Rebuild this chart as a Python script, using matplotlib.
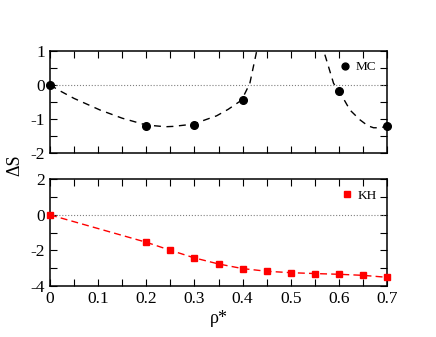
import matplotlib
matplotlib.use("Agg")
import matplotlib.pyplot as plt
import numpy as np

plt.rcParams['font.family'] = ['Liberation Serif', 'DejaVu Serif']
plt.rcParams['axes.unicode_minus'] = False

# MC points
mc_x = [0.0, 0.2, 0.3, 0.4, 0.6, 0.7]
mc_y = [0.0, -1.20, -1.17, -0.45, -0.17, -1.22]

# dashed fit (two branches)
fit1_x = [0.0, 0.017, 0.05, 0.104, 0.15, 0.2, 0.24, 0.256, 0.3, 0.312, 0.346, 0.37, 0.398, 0.415, 0.429, 0.44]
fit1_y = [0.0, -0.15, -0.40, -0.74, -0.98, -1.18, -1.23, -1.22, -1.15, -1.08, -0.91, -0.72, -0.45, 0.04, 0.97, 1.6]
fit2_x = [0.56, 0.569, 0.589, 0.6, 0.623, 0.644, 0.66, 0.672, 0.685, 0.7]
fit2_y = [1.6, 0.97, 0.04, -0.17, -0.74, -1.03, -1.20, -1.26, -1.26, -1.22]

# KH points
kh_x = [0.0, 0.2, 0.25, 0.3, 0.35, 0.4, 0.45, 0.5, 0.55, 0.6, 0.65, 0.7]
kh_y = [0.0, -1.54, -1.99, -2.42, -2.76, -3.02, -3.17, -3.25, -3.30, -3.34, -3.40, -3.51]

fig = plt.figure(figsize=(4.36, 3.37), dpi=100)
ax1 = fig.add_axes([0.1147, 0.546, 0.773, 0.3036])
ax2 = fig.add_axes([0.1147, 0.1513, 0.773, 0.3166])

ax1.plot(fit1_x, fit1_y, color='black', ls=(0, (5, 4)), lw=1.0)
ax1.plot(fit2_x, fit2_y, color='black', ls=(0, (5, 4)), lw=1.0)
ax1.plot(mc_x, mc_y, 'o', color='black', ms=5.5, clip_on=False, zorder=5, label='MC')
ax1.axhline(0, color='gray', ls=':', lw=0.8)
ax1.set_ylim(-2, 1)
ax1.set_yticks([1, 0, -1, -2])
ax1.set_yticks(np.arange(-2, 1.01, 0.5), minor=True)
ax1.set_xticklabels([])

ax2.plot(kh_x, kh_y, color='red', ls=(0, (5, 3)), lw=1.0)
ax2.plot(kh_x, kh_y, 's', color='red', ms=5, clip_on=False, zorder=5, label='KH')
ax2.axhline(0, color='gray', ls=':', lw=0.8)
ax2.set_ylim(-4, 2)
ax2.set_yticks([2, 0, -2, -4])
ax2.set_yticks(np.arange(-4, 2.01, 1), minor=True)

for ax in (ax1, ax2):
    ax.set_xlim(0, 0.7)
    ax.set_xticks(np.arange(0, 0.71, 0.1))
    ax.set_xticks(np.arange(0, 0.71, 0.05), minor=True)
    ax.tick_params(which='both', direction='in', top=True, right=True, length=5, width=0.8, labelsize=12.5)
    for s in ax.spines.values():
        s.set_linewidth(1.1)
    ax.legend(loc='upper right', frameon=False, fontsize=9.5, handletextpad=0.3,
              handlelength=1.0, borderaxespad=0.4, markerscale=0.9)

ax1.set_yticklabels(['1', '0', '-1', '-2'])
ax2.set_yticklabels(['2', '0', '-2', '-4'])
ax2.set_xticklabels(['0', '0.1', '0.2', '0.3', '0.4', '0.5', '0.6', '0.7'])
ax2.set_xlabel('ρ*', fontsize=13, labelpad=2)
fig.text(0.033, 0.51, 'ΔS', rotation=90, fontsize=13, ha='center', va='center')

fig.savefig('out.png', dpi=100)
